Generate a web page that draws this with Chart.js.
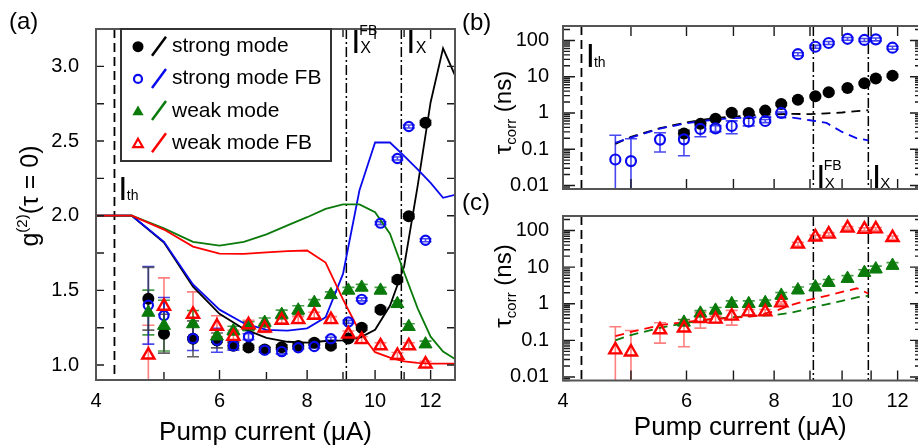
<!DOCTYPE html>
<html><head><meta charset="utf-8">
<script src="https://cdn.jsdelivr.net/npm/chart.js@4.4.1/dist/chart.umd.min.js"></script>
<style>
html,body{margin:0;padding:0;background:#fff;}
body{width:918px;height:447px;overflow:hidden;position:relative;}
canvas{position:absolute;display:block;}
</style></head><body>
<canvas id="ca" width="458" height="447" style="left:0;top:0;width:458px;height:447px"></canvas>
<canvas id="cb" width="482" height="215" style="left:458px;top:0;width:482px;height:215px"></canvas>
<canvas id="cc" width="482" height="257" style="left:458px;top:190px;width:482px;height:257px"></canvas>
<script>
const FONT = '"Liberation Sans", Arial, Helvetica, sans-serif';

// ---------------- data ----------------
const currents = [4.75, 5.0, 5.5, 5.95, 6.28, 6.6, 6.96, 7.36, 7.77, 8.19, 8.65, 9.16, 9.57, 10.18, 10.76, 11.17, 11.8];

const g2Strong      = [1.444, 1.21, 1.176, 1.165, 1.13, 1.118, 1.105, 1.12, 1.128, 1.15, 1.129, 1.178, 1.25, 1.371, 1.572, 1.997, 2.622];
const g2StrongErr   = [0.21, 0.13, 0.12, 0.05, 0.02, 0.015, 0.015, 0.015, 0.015, 0.015, 0.015, 0.015, 0.015, 0.015, 0.015, 0.015, 0.015];
const g2StrongFB    = [1.40, 1.332, 1.178, 1.166, 1.129, 1.19, 1.10, 1.09, 1.116, 1.124, 1.176, 1.289, 1.44, 1.95, 2.383, 2.597, 1.836];
const g2StrongFBErr = [0.26, 0.12, 0.08, 0.08, 0.03, 0.02, 0.015, 0.015, 0.01, 0.01, 0.01, 0.01, 0.01, 0.01, 0.01, 0.01, 0.01];
const g2Weak        = [1.352, 1.264, 1.275, 1.193, 1.23, 1.26, 1.285, 1.338, 1.367, 1.418, 1.47, 1.50, 1.52, 1.50, 1.41, 1.257, 1.14];
const g2WeakErr     = [0.15, 0.17, 0.09, 0.04, 0.03, 0.03, 0.03, 0.03, 0.03, 0.02, 0.02, 0.02, 0.02, 0.02, 0.02, 0.02, 0.02];
const g2WeakFB      = [1.067, 1.394, 1.34, 1.26, 1.192, 1.27, 1.248, 1.30, 1.304, 1.334, 1.304, 1.208, 1.17, 1.129, 1.064, 1.129, 1.006];
const g2WeakFBErr   = [0.2, 0.19, 0.15, 0.07, 0.04, 0.03, 0.03, 0.02, 0.02, 0.02, 0.02, 0.02, 0.02, 0.02, 0.02, 0.02, 0.02];

const simCurrents  = [4.0, 4.5, 5.0, 5.5, 6.0, 6.5, 7.0, 7.5, 8.0, 8.5, 9.0, 9.5, 10.0, 10.5, 11.0, 11.5, 12.0, 12.5, 13.0];
const simStrong    = [2.0, 2.0, 1.82, 1.525, 1.343, 1.242, 1.182, 1.156, 1.15, 1.161, 1.165, 1.182, 1.236, 1.397, 1.66, 2.2, 2.76, 3.12, 2.94];
const simStrongFB  = [2.0, 2.0, 1.825, 1.54, 1.371, 1.28, 1.236, 1.231, 1.246, 1.32, 1.61, 2.17, 2.49, 2.49, 2.40, 2.31, 2.22, 2.12, 2.14];
const simWeak      = [2.0, 2.0, 1.915, 1.825, 1.80, 1.825, 1.875, 1.935, 1.99, 2.046, 2.076, 2.076, 2.023, 1.88, 1.62, 1.38, 1.19, 1.09, 1.04];
const simWeakFB    = [2.0, 2.0, 1.907, 1.793, 1.746, 1.744, 1.755, 1.763, 1.767, 1.686, 1.44, 1.225, 1.086, 1.05, 1.025, 1.015, 1.01, 1.01, 1.01];

const tauStrong      = [null, null, null, 0.273, 0.50, 0.69, 1.02, 1.0, 1.16, 1.76, 2.33, 2.88, 3.75, 4.86, 6.6, 8.9, 10.7];
const tauStrongErr   = [null, null, null, 0.06, 0.06, 0.06, 0.1, 0.08, 0.1, 0.15, 0.2, 0.25, 0.3, 0.4, 0.5, 0.7, 0.9];
const tauStrongFB    = [0.052, 0.047, 0.184, 0.187, 0.362, 0.376, 0.437, 0.58, 0.60, 1.0, 41.7, 67, 85, 111, 103, 107, 63];
const tauStrongFBErr = [0.19, 0.147, 0.10, 0.121, 0.142, 0.07, 0.169, 0.14, 0.06, 0.06, 4, 6, 8, 10, 10, 10, 6];
const tauWeak        = [null, null, null, 0.31, 0.55, 0.66, 1.0, 1.0, 1.07, 1.69, 2.38, 2.86, 3.8, 4.88, 7.1, 8.9, 11.1];
const tauWeakErr     = [null, null, null, 0.06, 0.1, 0.13, 0.2, 0.2, 0.2, 0.35, 0.5, 0.6, 0.8, 1.0, 1.4, 1.8, 2.2];
const tauWeakFB      = [0.055, 0.048, 0.194, 0.217, 0.396, 0.38, 0.46, 0.60, 0.60, 1.06, 42.6, 67, 80, 118, 109, 111, 64];
const tauWeakFBErr   = [0.18, 0.138, 0.11, 0.15, 0.18, 0.08, 0.2, 0.1, 0.1, 0.08, 5, 8, 8, 10, 10, 10, 7];

const modelCurrents    = [4.75, 5.0, 5.5, 6.0, 6.5, 7.0, 7.5, 8.0, 8.5, 9.0, 9.5, 10.0, 10.5, 10.9];
const tauModelStrong   = [0.14, 0.22, 0.38, 0.55, 0.70, 0.80, 0.87, 0.91, 0.94, 0.93, 0.97, 1.03, 1.12, 1.2];
const tauModelStrongFB = [0.15, 0.21, 0.37, 0.52, 0.64, 0.72, 0.76, 0.77, 0.74, 0.63, 0.53, 0.30, 0.20, 0.175];
const tauModelWeak     = [0.10, 0.14, 0.22, 0.30, 0.38, 0.43, 0.46, 0.49, 0.58, 0.76, 0.96, 1.2, 1.5, 1.65];
const tauModelWeakFB   = [0.13, 0.17, 0.26, 0.32, 0.38, 0.41, 0.46, 0.62, 0.95, 1.3, 1.65, 2.1, 2.65, 1.9];

const xMajorTicks   = [4, 6, 8, 10, 12];
const xMinorTicks   = [5, 7, 9, 11];
const g2MajorTicks  = [1.0, 1.5, 2.0, 2.5, 3.0];
const g2MinorTicks  = [1.25, 1.75, 2.25, 2.75];
const tauMajorTicks = [0.01, 0.1, 1, 10, 100];

const thresholdCurrent = 4.25;
const crossingFBCurrent = 9.1;
const crossingCurrent = 10.9;

const legendLabels = ['strong mode', 'strong mode FB', 'weak mode', 'weak mode FB'];
const xTitle = 'Pump current (\u03bcA)';

// ---------------- style ----------------
const COL = { black: '#000000', blue: '#0a0aee', green: '#0a7a0a', red: '#ff0000' };
const ERRCOL = { black: 'rgba(60,60,60,0.8)', blue: 'rgba(10,10,238,0.75)', green: 'rgba(10,122,10,0.75)', red: 'rgba(255,0,0,0.5)' };

function tauMinorTicks() {
  const out = [];
  for (let e = -3; e <= 2; e++) for (let m = 2; m <= 9; m++) {
    const v = m * Math.pow(10, e);
    if (v >= 0.008 && v <= 250) out.push(+v.toPrecision(3));
  }
  return out;
}

function series(xs, ys, es) {
  const out = [];
  xs.forEach((x, i) => { if (ys[i] != null) out.push({ x: x, y: ys[i], err: es ? es[i] : null }); });
  return out;
}

function markers(data, style, color, radius, filled, bw, errColor, order) {
  return {
    data: data, showLine: false, order: order,
    pointStyle: style, pointRadius: radius, pointHoverRadius: radius,
    pointBorderColor: color, pointBackgroundColor: filled ? color : 'rgba(255,255,255,0)',
    pointBorderWidth: bw, borderColor: color, backgroundColor: color,
    errColor: errColor
  };
}
function curve(data, color, width, dash, order) {
  return {
    data: data, showLine: true, order: order, pointRadius: 0, pointHoverRadius: 0,
    borderColor: color, backgroundColor: color, borderWidth: width, borderDash: dash || [],
    tension: 0, fill: false
  };
}

function drawErrorBars(chart) {
  const { ctx, chartArea: a } = chart;
  const xs = chart.scales.x, ys = chart.scales.y;
  ctx.save();
  ctx.beginPath(); ctx.rect(a.left, a.top, a.right - a.left, a.bottom - a.top); ctx.clip();
  chart.data.datasets.forEach(ds => {
    if (!ds.errColor) return;
    ctx.strokeStyle = ds.errColor; ctx.lineWidth = 1.6; ctx.setLineDash([]);
    ds.data.forEach(p => {
      if (p.err == null) return;
      const px = xs.getPixelForValue(p.x);
      const top = ys.getPixelForValue(p.y + p.err);
      const lo = p.y - p.err;
      const bot = lo > 0 ? ys.getPixelForValue(lo) : a.bottom + 30;
      ctx.beginPath();
      ctx.moveTo(px, top); ctx.lineTo(px, bot);
      ctx.moveTo(px - 6, top); ctx.lineTo(px + 6, top);
      if (lo > 0) { ctx.moveTo(px - 6, bot); ctx.lineTo(px + 6, bot); }
      ctx.stroke();
    });
  });
  ctx.restore();
}

function drawVLines(chart, lines) {
  const { ctx, chartArea: a } = chart;
  ctx.save();
  lines.forEach(l => {
    const px = chart.scales.x.getPixelForValue(l.x);
    ctx.strokeStyle = '#000'; ctx.lineWidth = l.w; ctx.setLineDash(l.dash);
    ctx.beginPath(); ctx.moveTo(px, a.top); ctx.lineTo(px, a.bottom); ctx.stroke();
  });
  ctx.restore();
}

function drawFrame(chart, cfg) {
  const { ctx, chartArea: a } = chart;
  const xs = chart.scales.x, ys = chart.scales.y;
  ctx.save();
  ctx.setLineDash([]);
  ctx.strokeStyle = '#1a1a1a'; ctx.lineWidth = 1.4;
  ctx.beginPath();
  cfg.xTicks.forEach(t => {
    const px = xs.getPixelForValue(t.v);
    if (cfg.bottom) { ctx.moveTo(px, a.bottom); ctx.lineTo(px, a.bottom - t.len); }
    if (cfg.top) { ctx.moveTo(px, a.top); ctx.lineTo(px, a.top + t.len); }
  });
  cfg.yTicks.forEach(t => {
    const py = ys.getPixelForValue(t.v);
    if (py < a.top - 0.5 || py > a.bottom + 0.5) return;
    ctx.moveTo(a.left, py); ctx.lineTo(a.left + t.len, py);
    ctx.moveTo(a.right, py); ctx.lineTo(a.right - t.len, py);
  });
  ctx.stroke();
  ctx.strokeStyle = '#555'; ctx.lineWidth = 2;
  ctx.strokeRect(a.left, a.top, a.right - a.left, a.bottom - a.top);
  ctx.restore();
}

function partsWidth(ctx, parts) {
  let w = 0;
  parts.forEach(p => { ctx.font = p.size + 'px ' + FONT; w += ctx.measureText(p.t).width; });
  return w;
}
function drawParts(ctx, parts, x, y) {
  let cx = x;
  parts.forEach(p => {
    ctx.font = p.size + 'px ' + FONT;
    ctx.fillText(p.t, cx, y + (p.dy || 0));
    cx += ctx.measureText(p.t).width;
  });
}
function drawRotated(ctx, parts, bx, cy) {
  ctx.save();
  ctx.translate(bx, cy); ctx.rotate(-Math.PI / 2);
  ctx.textAlign = 'left'; ctx.textBaseline = 'alphabetic';
  drawParts(ctx, parts, -partsWidth(ctx, parts) / 2, 0);
  ctx.restore();
}
function label(ctx, t, size, x, y) {
  ctx.font = size + 'px ' + FONT; ctx.fillText(t, x, y);
}
// "I" with subscript and optional superscript; x is the reference-line pixel
function drawI(ctx, px, base, dxI, dxS, sub, sup, subSize, supBase) {
  ctx.save();
  ctx.fillStyle = '#000'; ctx.textAlign = 'left'; ctx.textBaseline = 'alphabetic';
  label(ctx, 'I', 33, px + dxI - 3, base);
  label(ctx, sub, subSize, px + dxS, base);
  if (sup) label(ctx, sup, 14, px + dxS - 1, supBase);
  ctx.restore();
}

function drawMarker(ctx, style, x, y, r, color, filled, lw) {
  ctx.save();
  ctx.strokeStyle = color; ctx.fillStyle = color; ctx.lineWidth = lw;
  ctx.beginPath();
  if (style === 'circle') ctx.arc(x, y, r, 0, Math.PI * 2);
  else {
    ctx.moveTo(x, y - r);
    ctx.lineTo(x + r * Math.sin(2 * Math.PI / 3), y - r * Math.cos(2 * Math.PI / 3));
    ctx.lineTo(x + r * Math.sin(4 * Math.PI / 3), y - r * Math.cos(4 * Math.PI / 3));
    ctx.closePath();
  }
  if (filled) ctx.fill(); else ctx.stroke();
  ctx.restore();
}

const tickFont = { family: FONT, size: 20 };

function xScale(opts) {
  return Object.assign({
    type: 'logarithmic', min: 4, max: 13, bounds: 'data', position: 'bottom',
    grid: { display: false, drawTicks: false }, border: { display: false },
    afterBuildTicks: s => { s.ticks = xMajorTicks.map(v => ({ value: v })); },
    ticks: { autoSkip: false, maxRotation: 0, minRotation: 0, padding: 9, color: '#000', font: tickFont, callback: v => String(v) }
  }, opts);
}
function tauScale(width) {
  return {
    type: 'logarithmic', min: 0.008, max: 250, bounds: 'data', position: 'left',
    grid: { display: false, drawTicks: false }, border: { display: false },
    afterBuildTicks: s => { s.ticks = tauMajorTicks.map(v => ({ value: v })); },
    afterFit: s => { s.width = width; },
    ticks: { autoSkip: false, padding: 14, color: '#000', font: tickFont, callback: v => String(v) }
  };
}
const baseOptions = {
  responsive: false, animation: false, devicePixelRatio: 1,
  plugins: { legend: { display: false }, tooltip: { enabled: false } },
  events: []
};

// ---------------- panel (a) ----------------
const offA = { x: 0, y: 0 };
const panelA = {
  id: 'panelA',
  beforeDatasetsDraw(chart) {
    drawErrorBars(chart);
    drawVLines(chart, [
      { x: thresholdCurrent, dash: [9, 5], w: 1.8 },
      { x: crossingFBCurrent, dash: [10, 3, 2, 3], w: 1.5 },
      { x: crossingCurrent, dash: [10, 3, 2, 3], w: 1.5 }
    ]);
  },
  afterDraw(chart) {
    const ctx = chart.ctx, xs = chart.scales.x;
    drawFrame(chart, {
      top: true, bottom: true,
      xTicks: xMajorTicks.map(v => ({ v, len: 10 })).concat(xMinorTicks.map(v => ({ v, len: 8 }))),
      yTicks: g2MajorTicks.concat(g2MinorTicks).map(v => ({ v, len: 8 }))
    });
    // legend
    ctx.save();
    ctx.fillStyle = '#fff'; ctx.fillRect(121, 29, 210, 132);
    ctx.strokeStyle = '#333'; ctx.lineWidth = 2; ctx.strokeRect(121, 29, 210, 132);
    const lcol = [COL.black, COL.blue, COL.green, COL.red];
    legendLabels.forEach((t, i) => {
      const cy = 46.7 + i * 32.2;
      if (i === 0) drawMarker(ctx, 'circle', 138, cy, 5.5, lcol[i], true, 0);
      if (i === 1) drawMarker(ctx, 'circle', 138, cy, 4, lcol[i], false, 2.2);
      if (i === 2) drawMarker(ctx, 'tri', 138, cy + 1, 6.5, lcol[i], true, 0);
      if (i === 3) drawMarker(ctx, 'tri', 138, cy + 1, 5.5, lcol[i], false, 2.2);
      ctx.strokeStyle = lcol[i]; ctx.lineWidth = 2.5; ctx.setLineDash([]);
      ctx.beginPath(); ctx.moveTo(152, cy + 9); ctx.lineTo(166, cy - 10); ctx.stroke();
      ctx.fillStyle = '#000'; ctx.textAlign = 'left'; ctx.textBaseline = 'alphabetic';
      label(ctx, t, 21, 172, cy + 5.4);
    });
    ctx.restore();
    // reference labels
    drawI(ctx, xs.getPixelForValue(thresholdCurrent), 200, 6.7, 12.3, 'th', null, 14);
    drawI(ctx, xs.getPixelForValue(crossingFBCurrent), 53, 8, 14, 'X', 'FB', 16, 35);
    drawI(ctx, xs.getPixelForValue(crossingCurrent), 53, 8, 14.5, 'X', null, 16);
    // titles
    ctx.save();
    ctx.translate(-offA.x, -offA.y);
    ctx.fillStyle = '#000'; ctx.textBaseline = 'alphabetic';
    ctx.textAlign = 'center'; label(ctx, xTitle, 26, 265.5, 439.5);
    ctx.textAlign = 'left'; label(ctx, '(a)', 24, 9, 29);
    drawRotated(ctx, [{ t: 'g', size: 25 }, { t: '(2)', size: 15, dy: -11 }, { t: '(\u03c4 = 0)', size: 25 }], 38, 196);
    ctx.restore();
  }
};

new Chart(document.getElementById('ca'), {
  type: 'scatter',
  data: { datasets: [
    markers(series(currents, g2WeakFB, g2WeakFBErr), 'triangle', COL.red, 7, false, 2.4, ERRCOL.red, 0),
    markers(series(currents, g2Weak, g2WeakErr), 'triangle', COL.green, 7.5, true, 1, ERRCOL.green, 1),
    markers(series(currents, g2StrongFB, g2StrongFBErr), 'circle', COL.blue, 4.6, false, 2.2, ERRCOL.blue, 2),
    markers(series(currents, g2Strong, g2StrongErr), 'circle', COL.black, 6, true, 0, ERRCOL.black, 3),
    curve(series(simCurrents, simWeakFB), COL.red, 1.8, null, 10),
    curve(series(simCurrents, simWeak), COL.green, 1.8, null, 11),
    curve(series(simCurrents, simStrongFB), COL.blue, 1.8, null, 12),
    curve(series(simCurrents, simStrong), COL.black, 1.8, null, 13)
  ]},
  options: Object.assign({}, baseOptions, {
    layout: { padding: { left: 0, right: 3, top: 15, bottom: 0 }, autoPadding: false },
    scales: {
      x: xScale({ afterFit: s => { s.height = 67; } }),
      y: {
        type: 'linear', min: 0.9, max: 3.25, bounds: 'data', position: 'left',
        grid: { display: false, drawTicks: false }, border: { display: false },
        afterBuildTicks: s => { s.ticks = g2MajorTicks.map(v => ({ value: v })); },
        afterFit: s => { s.width = 96; },
        ticks: { autoSkip: false, padding: 17, color: '#000', font: tickFont, callback: v => Number(v).toFixed(1) }
      }
    }
  }),
  plugins: [panelA]
});

// ---------------- panels (b), (c) ----------------
const tauYTicks = tauMajorTicks.map(v => ({ v, len: 12 })).concat(tauMinorTicks().map(v => ({ v, len: 7 })));
const allXTicks = xMajorTicks.concat(xMinorTicks).map(v => ({ v, len: 10 }));

const offB = { x: 458, y: 0 };
const panelB = {
  id: 'panelB',
  beforeDatasetsDraw(chart) {
    drawErrorBars(chart);
    drawVLines(chart, [
      { x: thresholdCurrent, dash: [9, 5], w: 1.8 },
      { x: crossingFBCurrent, dash: [10, 3, 2, 3], w: 1.5 },
      { x: crossingCurrent, dash: [10, 3, 2, 3], w: 1.5 }
    ]);
  },
  afterDraw(chart) {
    const ctx = chart.ctx, xs = chart.scales.x;
    drawFrame(chart, { top: true, bottom: true, xTicks: allXTicks, yTicks: tauYTicks });
    drawI(ctx, xs.getPixelForValue(thresholdCurrent), 66.5, 7.3, 12.5, 'th', null, 14);
    drawI(ctx, xs.getPixelForValue(crossingFBCurrent), 188.3, 6, 11.3, 'X', 'FB', 15, 170);
    drawI(ctx, xs.getPixelForValue(crossingCurrent), 188.3, 6.7, 12, 'X', null, 15);
    ctx.save();
    ctx.translate(-offB.x, -offB.y);
    ctx.fillStyle = '#000'; ctx.textBaseline = 'alphabetic'; ctx.textAlign = 'left';
    label(ctx, '(b)', 24, 462, 30);
    drawRotated(ctx, [{ t: '\u03c4', size: 24 }, { t: 'corr', size: 15, dy: 5 }, { t: ' (ns)', size: 24 }], 511, 112.5);
    ctx.restore();
  }
};

new Chart(document.getElementById('cb'), {
  type: 'scatter',
  data: { datasets: [
    markers(series(currents, tauStrongFB, tauStrongFBErr), 'circle', COL.blue, 5, false, 2.2, ERRCOL.blue, 0),
    markers(series(currents, tauStrong, tauStrongErr), 'circle', COL.black, 6, true, 0, ERRCOL.black, 1),
    curve(series(modelCurrents, tauModelStrongFB), COL.blue, 1.8, [9, 6], 10),
    curve(series(modelCurrents, tauModelStrong), COL.black, 1.8, [9, 6], 11)
  ]},
  options: Object.assign({}, baseOptions, {
    layout: { padding: { left: 0, right: 18, top: 15, bottom: 0 }, autoPadding: false },
    scales: {
      x: xScale({ ticks: { display: false }, afterFit: s => { s.height = 18; } }),
      y: tauScale(105)
    }
  }),
  plugins: [panelB]
});

const offC = { x: 458, y: 190 };
const panelC = {
  id: 'panelC',
  beforeDatasetsDraw(chart) {
    drawErrorBars(chart);
    drawVLines(chart, [
      { x: thresholdCurrent, dash: [9, 5], w: 1.8 },
      { x: crossingFBCurrent, dash: [10, 3, 2, 3], w: 1.5 },
      { x: crossingCurrent, dash: [10, 3, 2, 3], w: 1.5 }
    ]);
  },
  afterDraw(chart) {
    const ctx = chart.ctx;
    drawFrame(chart, { top: false, bottom: true, xTicks: allXTicks, yTicks: tauYTicks });
    ctx.save();
    ctx.translate(-offC.x, -offC.y);
    ctx.fillStyle = '#000'; ctx.textBaseline = 'alphabetic';
    ctx.textAlign = 'center'; label(ctx, xTitle, 26, 740.3, 434.5);
    ctx.textAlign = 'left'; label(ctx, '(c)', 24, 462, 210);
    drawRotated(ctx, [{ t: '\u03c4', size: 24 }, { t: 'corr', size: 15, dy: 5 }, { t: ' (ns)', size: 24 }], 511, 286);
    ctx.restore();
  }
};

new Chart(document.getElementById('cc'), {
  type: 'scatter',
  data: { datasets: [
    markers(series(currents, tauWeakFB, tauWeakFBErr), 'triangle', COL.red, 7, false, 2.4, ERRCOL.red, 0),
    markers(series(currents, tauWeak, tauWeakErr), 'triangle', COL.green, 7.5, true, 1, ERRCOL.green, 1),
    curve(series(modelCurrents, tauModelWeakFB), COL.red, 1.8, [9, 6], 10),
    curve(series(modelCurrents, tauModelWeak), COL.green, 1.8, [9, 6], 11)
  ]},
  options: Object.assign({}, baseOptions, {
    layout: { padding: { left: 0, right: 18, top: 7, bottom: 0 }, autoPadding: false },
    scales: {
      x: xScale({ afterFit: s => { s.height = 66.5; } }),
      y: tauScale(105)
    }
  }),
  plugins: [panelC]
});
</script>
</body></html>
